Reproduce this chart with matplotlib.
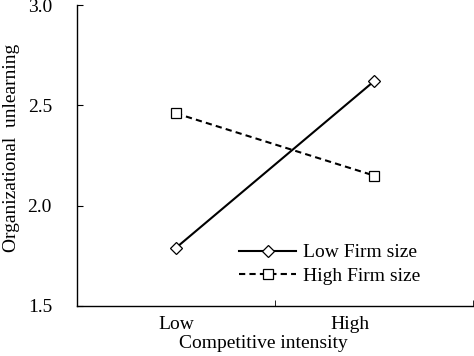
import matplotlib.pyplot as plt

plt.rcParams['font.family'] = ['Liberation Serif', 'DejaVu Serif']

categories = ['Low', 'High']
low_firm = [1.79, 2.62]
high_firm = [2.46, 2.15]

fig = plt.figure(figsize=(4.74, 3.56), dpi=100)
ax = fig.add_axes([77/474, 1 - 306/356, 396/474, 301/356])

x = [0, 1]
ax.plot(x, low_firm, color='black', lw=1.5, marker='D', ms=6,
        mfc='white', mec='black', mew=0.9, label='Low Firm size')
ax.plot(x, high_firm, color='black', lw=1.5, ls=(0, (3, 2)), marker='s', ms=7,
        mfc='white', mec='black', mew=0.9, label='High Firm size')

ax.set_xlim(-0.5, 1.5)
ax.set_ylim(1.5, 3.0)
ax.set_yticks([1.5, 2.0, 2.5, 3.0])
ax.set_yticklabels(['1.5', '2.0', '2.5', '3.0'], fontsize=14)
ax.set_xticks([0, 0.88])
ax.set_xticklabels(categories, fontsize=14)
ax.tick_params(axis='x', length=0, pad=7)
ax.set_xticks([0.5, 1.5], minor=True)
ax.tick_params(axis='x', which='minor', direction='in', length=4)
ax.tick_params(axis='y', direction='in', length=4, pad=18)

for s in ['top', 'right']:
    ax.spines[s].set_visible(False)
for s in ['left', 'bottom']:
    ax.spines[s].set_linewidth(1.0)

ax.set_xlabel('Competitive intensity', fontsize=14)
ax.xaxis.set_label_coords(0.47, -0.095)
ax.set_ylabel('Organizational  unlearning', fontsize=14)
ax.yaxis.set_label_coords(-0.145, 0.525)

ax.legend(loc='lower left', bbox_to_anchor=(0.41, 0.07), frameon=False,
          fontsize=14, handlelength=2.9, handletextpad=0.35, labelspacing=0.3,
          borderpad=0, borderaxespad=0)

fig.savefig('out.png', dpi=100)
